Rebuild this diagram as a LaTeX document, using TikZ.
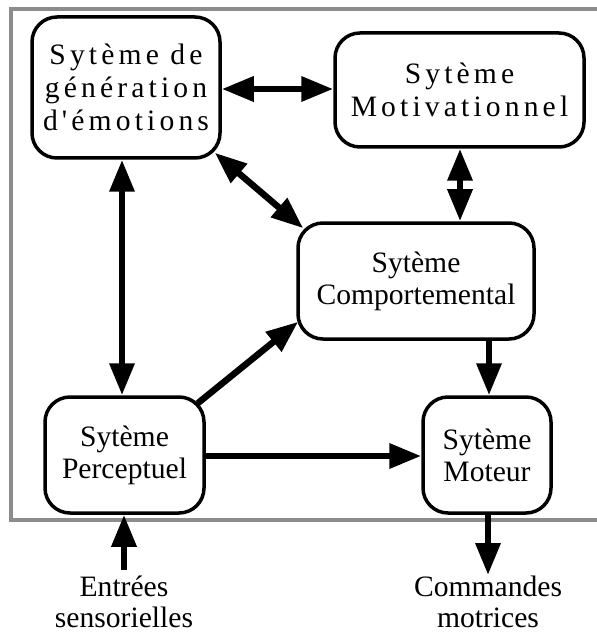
\documentclass[tikz,border=0pt]{standalone}
\usepackage{fontspec}
\setmainfont{Liberation Serif}
\newfontfamily\spacedfont[LetterSpace=14]{Liberation Serif}
\usetikzlibrary{arrows.meta,positioning}

\begin{document}
\begin{tikzpicture}[x=0.5pt,y=-0.5pt,>={Triangle[length=16pt,width=12pt]},
  sys/.style={draw,line width=1.75pt,rounded corners=12.5pt,align=center,inner sep=0pt,font=\fontsize{14.8}{16}\selectfont},
  wide/.style={font=\spacedfont\fontsize{14.8}{16.5}\selectfont},
  io/.style={anchor=north,align=center,inner sep=0pt,font=\fontsize{14.8}{15.5}\selectfont},
  link/.style={line width=3.25pt}]
\useasboundingbox (0,0) rectangle (597,636);
\draw[black!45,line width=2pt] (597,9) -| (11,520) -- (597,520);
\node[sys,wide,minimum width=94pt,minimum height=70.5pt] (emo) at (126,87.5) {Sytème de\\génération\\d'émotions};
\node[sys,wide,minimum width=124.5pt,minimum height=57pt] (motiv) at (459.5,90) {Sytème\\Motivationnel};
\node[sys,minimum width=118pt,minimum height=58pt] (comp) at (416,281) {Sytème\\Comportemental};
\node[sys,minimum width=79.5pt,minimum height=58pt] (perc) at (124.5,455) {Sytème\\Perceptuel};
\node[sys,minimum width=64pt,minimum height=58pt] (mot) at (487,455) {Sytème\\Moteur};
\node[io] (ent) at (124,576) {Entrées\\sensorielles};
\node[io] (cmd) at (488,576) {Commandes\\motrices};
% liaisons
\draw[link,<->] (emo.east |- 0,89) -- (motiv.west |- 0,89);
\draw[link,<->] ([shift={(-7,-7)}]emo.south east) -- ([shift={(7,7)}]comp.north west);
\draw[link,<->] (motiv.south -| 460,0) -- (comp.north -| 460,0);
\draw[link,<->] (emo.south -| 122,0) -- (perc.north -| 122,0);
\draw[link,->] ([shift={(-8,8)}]perc.north east) -- ([shift={(2,-19)}]comp.south west);
\draw[link,->] (comp.south -| 489,0) -- (mot.north -| 489,0);
\draw[link,->] (perc.east |- 0,456) -- (mot.west |- 0,456);
\draw[link,->] ([yshift=3pt]ent.north) -- (perc.south -| ent.north);
\draw[link,->] (mot.south -| cmd.north) -- ([yshift=0.5pt]cmd.north);
\end{tikzpicture}
\end{document}
